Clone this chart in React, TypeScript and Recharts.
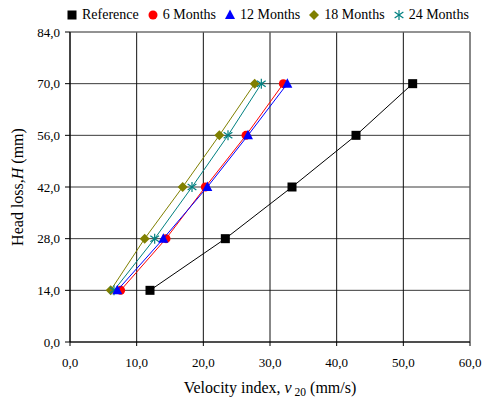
import React from 'react';
import { ScatterChart, Scatter, XAxis, YAxis, CartesianGrid, ReferenceLine, Legend } from 'recharts';

const headLoss = [14, 28, 42, 56, 70];
const referenceX = [12.0, 23.3, 33.3, 42.9, 51.4];
const months6X = [7.6, 14.4, 20.3, 26.4, 32.0];
const months12X = [7.1, 14.0, 20.6, 26.7, 32.6];
const months18X = [6.1, 11.2, 16.9, 22.4, 27.7];
const months24X = [6.6, 12.7, 18.3, 23.7, 28.7];

const xTicks = [0, 10, 20, 30, 40, 50, 60];
const yTicks = [0, 14, 28, 42, 56, 70, 84];

const FONT = 'Liberation Serif, DejaVu Serif, serif';

const toPoints = (xs: number[]) => xs.map((x, i) => ({ x, y: headLoss[i] }));

const fmt = (v: number) => v.toFixed(1).replace('.', ',');

type ShapeProps = { cx?: number; cy?: number; fill?: string };

const SquareShape = (p: ShapeProps) => (
  <rect x={(p.cx ?? 0) - 4.5} y={(p.cy ?? 0) - 4.5} width={9} height={9} fill="#000" />
);
const CircleShape = (p: ShapeProps) => <circle cx={p.cx} cy={p.cy} r={4.5} fill="#FF0000" />;
const TriangleShape = (p: ShapeProps) => {
  const cx = p.cx ?? 0, cy = p.cy ?? 0;
  return <polygon points={`${cx},${cy - 5.5} ${cx + 5},${cy + 4} ${cx - 5},${cy + 4}`} fill="#0000FF" />;
};
const DiamondShape = (p: ShapeProps) => {
  const cx = p.cx ?? 0, cy = p.cy ?? 0;
  return <polygon points={`${cx},${cy - 5} ${cx + 5},${cy} ${cx},${cy + 5} ${cx - 5},${cy}`} fill="#808000" />;
};
const StarShape = (p: ShapeProps) => {
  const cx = p.cx ?? 0, cy = p.cy ?? 0;
  const r = 5;
  return (
    <g stroke="#008080" strokeWidth={1.2}>
      <line x1={cx} y1={cy - r} x2={cx} y2={cy + r} />
      <line x1={cx - r * 0.87} y1={cy - r * 0.6} x2={cx + r * 0.87} y2={cy + r * 0.6} />
      <line x1={cx - r * 0.87} y1={cy + r * 0.6} x2={cx + r * 0.87} y2={cy - r * 0.6} />
    </g>
  );
};

const legendItems = [
  { name: 'Reference', Shape: SquareShape },
  { name: '6 Months', Shape: CircleShape },
  { name: '12 Months', Shape: TriangleShape },
  { name: '18 Months', Shape: DiamondShape },
  { name: '24 Months', Shape: StarShape },
];

const LegendContent = () => (
  <div style={{ display: 'flex', alignItems: 'center', fontFamily: FONT, fontSize: 14, color: '#000', lineHeight: '16px' }}>
    {legendItems.map(({ name, Shape }) => (
      <div key={name} style={{ display: 'flex', alignItems: 'center', marginRight: 8 }}>
        <svg width={12} height={12} style={{ marginRight: 4 }}>
          <Shape cx={6} cy={6} />
        </svg>
        <span>{name}</span>
      </div>
    ))}
  </div>
);

const XTitle = (props: any) => {
  const vb = props.viewBox || {};
  const cx = vb.x + vb.width / 2;
  return (
    <text x={cx} y={393} textAnchor="middle" fontFamily={FONT} fontSize={16} fill="#000">
      Velocity index, <tspan fontStyle="italic">v</tspan>
      <tspan fontSize={11.5} dy={3}> 20</tspan>
      <tspan dy={-3}> (mm/s)</tspan>
    </text>
  );
};

const YTitle = (props: any) => {
  const vb = props.viewBox || {};
  const cy = vb.y + vb.height / 2;
  const x = 23;
  return (
    <text
      x={x}
      y={cy}
      transform={`rotate(-90 ${x} ${cy})`}
      textAnchor="middle"
      fontFamily={FONT}
      fontSize={16}
      fill="#000"
    >
      Head loss,<tspan fontStyle="italic">H</tspan> (mm)
    </text>
  );
};

export default function App() {
  return (
    <div style={{ position: 'absolute', left: 0, top: 0, background: '#fff', fontFamily: FONT }}>
      <ScatterChart
        width={485}
        height={399}
        margin={{ top: 16, right: 15, bottom: 0, left: 0 }}
        style={{ fontFamily: FONT }}
      >
        <CartesianGrid stroke="#3a3a3a" strokeWidth={1} horizontal={true} vertical={false} />
        <CartesianGrid stroke="#111" strokeWidth={1} horizontal={false} vertical={true} />
        <ReferenceLine y={84} stroke="#888" strokeWidth={1} />
        <ReferenceLine x={60} stroke="#888" strokeWidth={1} />
        <XAxis
          type="number"
          dataKey="x"
          domain={[0, 60]}
          ticks={xTicks}
          tickFormatter={fmt}
          height={57}
          tickSize={4}
          tickMargin={12}
          axisLine={{ stroke: '#000' }}
          tickLine={{ stroke: '#000' }}
          tick={{ fill: '#000', fontSize: 13, fontFamily: FONT }}
          label={<XTitle />}
          allowDataOverflow
        />
        <YAxis
          type="number"
          dataKey="y"
          domain={[0, 84]}
          ticks={yTicks}
          tickFormatter={fmt}
          width={70}
          tickSize={5}
          tickMargin={5}
          axisLine={{ stroke: '#000' }}
          tickLine={{ stroke: '#000' }}
          tick={{ fill: '#000', fontSize: 13, fontFamily: FONT }}
          label={<YTitle />}
          allowDataOverflow
        />
        <Legend
          verticalAlign="top"
          content={<LegendContent />}
          wrapperStyle={{ top: 7, left: 66, width: 420, height: 16 }}
        />
        <Scatter name="Reference" data={toPoints(referenceX)} line={{ stroke: '#000', strokeWidth: 1 }} shape={SquareShape} isAnimationActive={false} />
        <Scatter name="18 Months" data={toPoints(months18X)} line={{ stroke: '#808000', strokeWidth: 1 }} shape={DiamondShape} isAnimationActive={false} />
        <Scatter name="24 Months" data={toPoints(months24X)} line={{ stroke: '#008080', strokeWidth: 1 }} shape={StarShape} isAnimationActive={false} />
        <Scatter name="6 Months" data={toPoints(months6X)} line={{ stroke: '#FF0000', strokeWidth: 1 }} shape={CircleShape} isAnimationActive={false} />
        <Scatter name="12 Months" data={toPoints(months12X)} line={{ stroke: '#0000FF', strokeWidth: 1 }} shape={TriangleShape} isAnimationActive={false} />
      </ScatterChart>
    </div>
  );
}
